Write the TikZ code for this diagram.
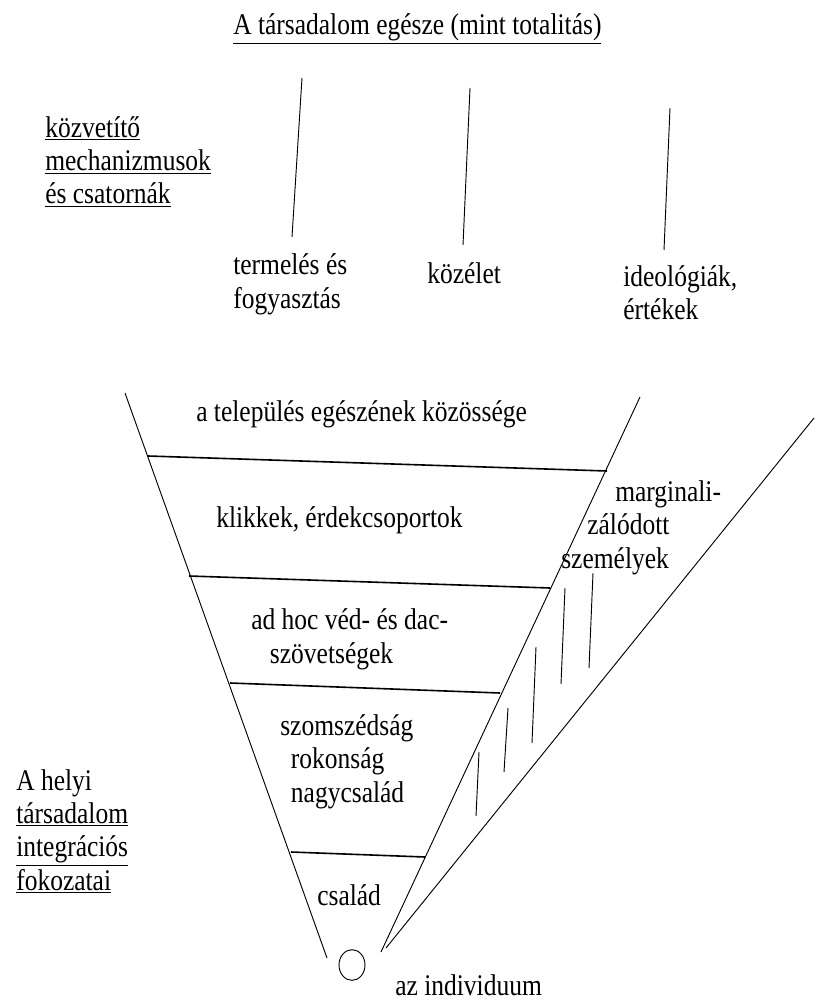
\documentclass[tikz,border=0pt]{standalone}
\usepackage{fontspec}
\setmainfont{Liberation Serif}[FakeStretch=0.85]
\usepackage{tikz}
\usetikzlibrary{shapes.geometric}

\begin{document}
\begin{tikzpicture}[x=0.75pt,y=-0.75pt,
  every node/.style={font=\fontsize{22.5}{25}\selectfont,inner sep=0pt},
  txt/.style={anchor=base west,align=left},
  thinline/.style={line width=0.7pt},
  levelline/.style={line width=1.2pt}]
\useasboundingbox (0,0) rectangle (816,1005);

\node (title) [txt] at (233,35) {\underline{A társadalom egésze (mint totalitás)}};
\node (mech) [txt] at (45,204) {\underline{közvetítő}\\\underline{mechanizmusok}\\\underline{és csatornák}};

\coordinate (prodtop) at (302,78);
\coordinate (prodbot) at (292,237);
\coordinate (pubtop) at (470,88);
\coordinate (pubbot) at (463,245);
\coordinate (ideotop) at (670,108);
\coordinate (ideobot) at (664,250);
\draw[thinline] (prodtop) -- (prodbot);
\draw[thinline] (pubtop) -- (pubbot);
\draw[thinline] (ideotop) -- (ideobot);

\node (prod) [txt] at (233,308) {termelés és\\fogyasztás};
\node (public) [txt] at (427,283) {közélet};
\node (ideo) [txt] at (623,320) {ideológiák,\\értékek};

% the funnel
\coordinate (lefttop) at (125,393);
\coordinate (leftbot) at (327,958);
\coordinate (righttop) at (640,397);
\coordinate (rightbot) at (381,952);
\coordinate (outertop) at (814,418);
\coordinate (outerbot) at (386,948);
\draw[thinline] (lefttop) -- (leftbot);
\draw[thinline] (righttop) -- (rightbot);
\draw[thinline] (outertop) -- (outerbot);

\coordinate (l1) at (148,456);
\coordinate (r1) at (607,471);
\coordinate (l2) at (189,576);
\coordinate (r2) at (550,588);
\coordinate (l3) at (230,683);
\coordinate (r3) at (500,693);
\coordinate (l4) at (291,852);
\coordinate (r4) at (425,857);
\draw[levelline] (l1) -- (r1);
\draw[levelline] (l2) -- (r2);
\draw[levelline] (l3) -- (r3);
\draw[levelline] (l4) -- (r4);

% hatching of the margin
\coordinate (h1a) at (593,573);
\coordinate (h1b) at (589,668);
\coordinate (h2a) at (565,588);
\coordinate (h2b) at (561,684);
\coordinate (h3a) at (536,647);
\coordinate (h3b) at (532,743);
\coordinate (h4a) at (508,708);
\coordinate (h4b) at (504,772);
\coordinate (h5a) at (479,752);
\coordinate (h5b) at (476,816);
\draw[thinline] (h1a) -- (h1b);
\draw[thinline] (h2a) -- (h2b);
\draw[thinline] (h3a) -- (h3b);
\draw[thinline] (h4a) -- (h4b);
\draw[thinline] (h5a) -- (h5b);

\node (whole) [txt] at (196,421) {a település egészének közössége};
\node (cliques) [txt] at (216,527) {klikkek, érdekcsoportok};
\node (margin) [txt] at (561,568) {\hspace*{40.5pt}marginali-\\\hspace*{19.5pt}zálódott\\személyek};
\node (adhoc) [txt] at (251,663) {ad hoc véd- és dac-\\\hspace*{14pt}szövetségek};
\node (kin) [txt] at (280,802) {szomszédság\\\hspace*{8pt}rokonság\\\hspace*{8pt}nagycsalád};
\node (family) [txt] at (317,905) {család};

\node (indiv) [draw,thinline,shape=ellipse,minimum width=19.5pt,minimum height=23pt] at (352,965) {};
\node (indivlabel) [txt] at (395,995) {az individuum};

\node (local) [txt] at (16,890) {A helyi\\\underline{társadalom}\\\underline{integrációs}\\\underline{fokozatai}};

\end{tikzpicture}
\end{document}
